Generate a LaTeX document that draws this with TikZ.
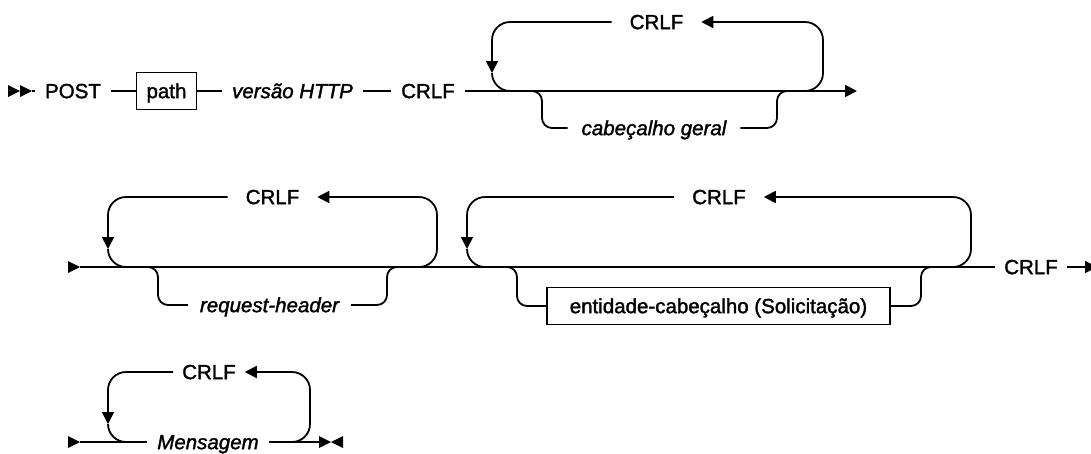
\documentclass[tikz,border=0pt]{standalone}
\usepackage{fontspec}
\setmainfont{Liberation Sans}[UprightFeatures={FakeBold=1.6}, ItalicFeatures={FakeBold=1.6}]
\usetikzlibrary{arrows.meta,calc}

\tikzset{
  rr/.style={line width=1.8pt},
  term/.style={font=\fontsize{20.5}{24}\selectfont, inner xsep=10pt, inner ysep=0pt,
    text height=14.3pt, text depth=0pt, outer sep=0pt},
  var/.style={term, font=\fontsize{20.5}{24}\selectfont\itshape},
  loopterm/.style={term, inner xsep=18pt},
  boxterm/.style={term, draw, line width=1.8pt, minimum height=37pt},
}

\begin{document}
\begin{tikzpicture}[x=1pt, y=-1pt, >={Triangle[length=12pt,width=12pt]}]
\useasboundingbox[fill=white] (0,0) rectangle (1091,453);

% Row 1: POST path version CRLF
\fill (8,85) -- (20,91) -- (8,97) -- cycle;
\fill (20,85) -- (32,91) -- (20,97) -- cycle;
\coordinate (startA) at (32,91);
\node[term] (post) at (73,91) {POST};
\node[boxterm] (path) at (166.5,91) {path};
\node[var] (versao) at (292.5,91) {versão HTTP};
\node[term] (crlfA) at (428,91) {CRLF};
\coordinate (endA) at (857,91);
\draw[rr] (startA) -- (post.west);
\draw[rr] (post.east) -- (path.west);
\draw[rr] (path.east) -- (versao.west);
\draw[rr] (versao.east) -- (crlfA.west);
\draw[rr,->] (crlfA.east) -- (endA);

% Loop over general header
\coordinate (aL) at (492,91);
\coordinate (aR) at (823,91);
\coordinate (bL) at (542,91);
\coordinate (bR) at (777,91);
\node[loopterm] (crlfAt) at (656.5,22) {CRLF};
\node[var, inner xsep=14pt] (cabec) at (654,128) {cabeçalho geral};
\draw[rr, rounded corners=18pt, ->] ($(aR)+(-25,0)$) -- (aR) |- (crlfAt.east);
\draw[rr, rounded corners=18pt, ->] (crlfAt.west) -| ($(aL)+(0,-18)$);
\draw[rr, rounded corners=18pt] ($(aL)+(0,-18)$) -- (aL) -- ++(25,0);
\draw[rr, rounded corners=10pt] ($(bL)+(-15,0)$) -- (bL) |- (cabec.west);
\draw[rr, rounded corners=10pt] (cabec.east) -| (bR) -- ++(15,0);

% Row 2: main line
\fill (68,261) -- (80,267) -- (68,273) -- cycle;
\coordinate (startB) at (80,267);
\node[term, inner xsep=9pt] (crlfE) at (1031,267) {CRLF};
\coordinate (endB) at (1097,267);
\draw[rr] (startB) -- (crlfE.west);
\draw[rr,->] (crlfE.east) -- (endB);

% Loop over request-header
\coordinate (cL) at (108,267);
\coordinate (cR) at (437,267);
\coordinate (dL) at (158,267);
\coordinate (dR) at (387,267);
\node[loopterm] (crlfCt) at (272.5,197) {CRLF};
\node[var, inner xsep=12pt] (req) at (269.5,305) {request-header};
\draw[rr, rounded corners=18pt, ->] ($(cR)+(-25,0)$) -- (cR) |- (crlfCt.east);
\draw[rr, rounded corners=18pt, ->] (crlfCt.west) -| ($(cL)+(0,-18)$);
\draw[rr, rounded corners=18pt] ($(cL)+(0,-18)$) -- (cL) -- ++(25,0);
\draw[rr, rounded corners=10pt] ($(dL)+(-15,0)$) -- (dL) |- (req.west);
\draw[rr, rounded corners=10pt] (req.east) -| (dR) -- ++(15,0);

% Loop over entity header
\coordinate (eL) at (467,267);
\coordinate (eR) at (971,267);
\coordinate (fL) at (517,267);
\coordinate (fR) at (921,267);
\node[loopterm] (crlfEt) at (719,197) {CRLF};
\node[boxterm, minimum width=343pt] (ent) at (718.5,306) {entidade-cabeçalho (Solicitação)};
\draw[rr, rounded corners=18pt, ->] ($(eR)+(-25,0)$) -- (eR) |- (crlfEt.east);
\draw[rr, rounded corners=18pt, ->] (crlfEt.west) -| ($(eL)+(0,-18)$);
\draw[rr, rounded corners=18pt] ($(eL)+(0,-18)$) -- (eL) -- ++(25,0);
\draw[rr, rounded corners=10pt] ($(fL)+(-15,0)$) -- (fL) |- (ent.west);
\draw[rr, rounded corners=10pt] (ent.east) -| (fR) -- ++(15,0);

% Row 3: message
\fill (68,436) -- (80,442) -- (68,448) -- cycle;
\coordinate (startC) at (80,442);
\node[var] (mens) at (208,442) {Mensagem};
\coordinate (endC) at (320,442);
\draw[rr] (startC) -- (mens.west);
\draw[rr] (mens.east) -- (endC);
\fill (319,436) -- (331,442) -- (319,448) -- cycle;
\fill (343,436) -- (331,442) -- (343,448) -- cycle;

% Loop over message
\coordinate (gL) at (108,442);
\coordinate (gR) at (310,442);
\node[loopterm, inner xsep=9pt] (crlfGt) at (209,372) {CRLF};
\draw[rr, rounded corners=18pt, ->] ($(gR)+(-25,0)$) -- (gR) |- (crlfGt.east);
\draw[rr, rounded corners=18pt, ->] (crlfGt.west) -| ($(gL)+(0,-18)$);
\draw[rr, rounded corners=18pt] ($(gL)+(0,-18)$) -- (gL) -- ++(25,0);
\end{tikzpicture}
\end{document}
